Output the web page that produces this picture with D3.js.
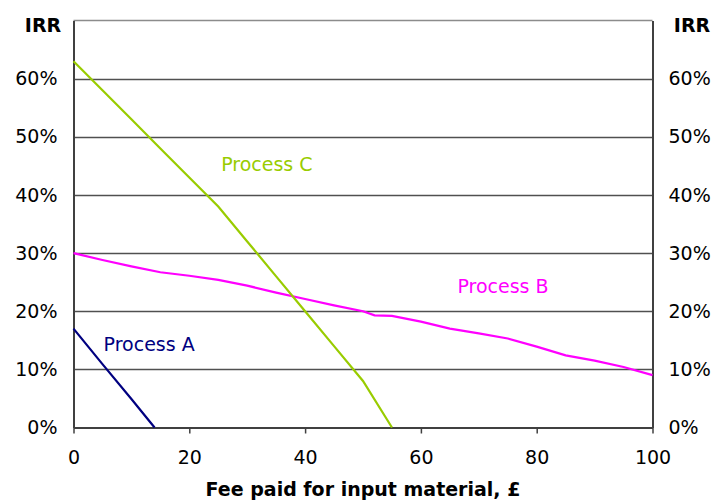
<!DOCTYPE html>
<html><head><meta charset="utf-8">
<script src="https://cdn.jsdelivr.net/npm/d3@7"></script>
<style>body{margin:0;background:#fff}svg{display:block}text{font-family:"DejaVu Sans",Verdana,sans-serif}</style>
</head><body><svg id="c" width="716" height="501"></svg>
<script>
const xTicks = [0, 20, 40, 60, 80, 100];
const yTicks = [0, 0.1, 0.2, 0.3, 0.4, 0.5, 0.6];
const feeA = [0, 5, 10, 14];
const irrA = [0.17, 0.109, 0.049, 0.0];
const feeB = [0,5,10,15,20,25,30,35,40,45,50,52,55,60,65,70,75,80,85,90,95,100];
const irrB = [0.30,0.288,0.277,0.267,0.261,0.254,0.244,0.232,0.221,0.210,0.200,0.193,0.192,0.182,0.170,0.162,0.153,0.139,0.124,0.115,0.104,0.09];
const feeC = [0,5,10,15,20,25,30,35,40,45,50,55];
const irrC = [0.63,0.58,0.53,0.48,0.43,0.38,0.32,0.26,0.20,0.14,0.08,0.0];
const labels = [
  {text:"Process A", fee:5.2, irr:0.131, color:"#000080"},
  {text:"Process B", fee:66.3, irr:0.232, color:"#ff00ff"},
  {text:"Process C", fee:25.5, irr:0.442, color:"#99cc00"}
];

const svg = d3.select("#c");
const L = 73.5, R = 652.5, T = 20.5, B = 427.5;
const x = d3.scaleLinear().domain([0,100]).range([L,R]);
const y = d3.scaleLinear().domain([0,0.7]).range([B,T]);

// gridlines
svg.append("g").selectAll("line").data(yTicks.slice(1)).join("line")
  .attr("x1",L).attr("x2",R).attr("y1",d=>Math.round(y(d))+0.5).attr("y2",d=>Math.round(y(d))+0.5)
  .attr("stroke","#505050").attr("stroke-width",1.5);
svg.append("line").attr("x1",L).attr("x2",R).attr("y1",T).attr("y2",T).attr("stroke","#8c8c8c").attr("stroke-width",1.5);

// x axis
const xa = svg.append("g").attr("transform",`translate(0,${B})`)
  .call(d3.axisBottom(x).tickValues(xTicks).tickSize(6).tickPadding(17).tickSizeOuter(0));
xa.select(".domain").attr("stroke","#404040").attr("stroke-width",2);
xa.selectAll(".tick line").attr("stroke","#404040").attr("stroke-width",1.5);
xa.selectAll("text").attr("font-size",19).attr("fill","#000");

// y axes
const ya = svg.append("g").attr("transform",`translate(${L},0)`)
  .call(d3.axisLeft(y).tickValues(yTicks).tickFormat(d3.format(".0%")).tickSize(0).tickPadding(16));
ya.select(".domain").attr("stroke","#404040").attr("stroke-width",2);
ya.selectAll("text").attr("font-size",19).attr("fill","#000");
const yr = svg.append("g").attr("transform",`translate(${R},0)`)
  .call(d3.axisRight(y).tickValues(yTicks).tickFormat(d3.format(".0%")).tickSize(0).tickPadding(16));
yr.select(".domain").attr("stroke","#404040").attr("stroke-width",2);
yr.selectAll("text").attr("font-size",19).attr("fill","#000");

// lines
const line = d3.line().x(d=>x(d[0])).y(d=>y(d[1]));
const series = [[feeA,irrA,"#000080"],[feeB,irrB,"#ff00ff"],[feeC,irrC,"#99cc00"]];
series.forEach(([f,v,c])=>{
  svg.append("path").datum(f.map((d,i)=>[d,v[i]])).attr("d",line)
    .attr("fill","none").attr("stroke",c).attr("stroke-width",2.2);
});

// labels
svg.append("g").selectAll("text").data(labels).join("text")
  .attr("x",d=>x(d.fee)).attr("y",d=>y(d.irr)).attr("fill",d=>d.color)
  .attr("font-size",19).text(d=>d.text);

svg.append("text").attr("x",43).attr("y",32).attr("text-anchor","middle").attr("font-weight","bold").attr("font-size",19).text("IRR");
svg.append("text").attr("x",692).attr("y",32).attr("text-anchor","middle").attr("font-weight","bold").attr("font-size",19).text("IRR");
svg.append("text").attr("x",(L+R)/2).attr("y",496).attr("text-anchor","middle").attr("font-weight","bold").attr("font-size",19).text("Fee paid for input material, £");
</script></body></html>
